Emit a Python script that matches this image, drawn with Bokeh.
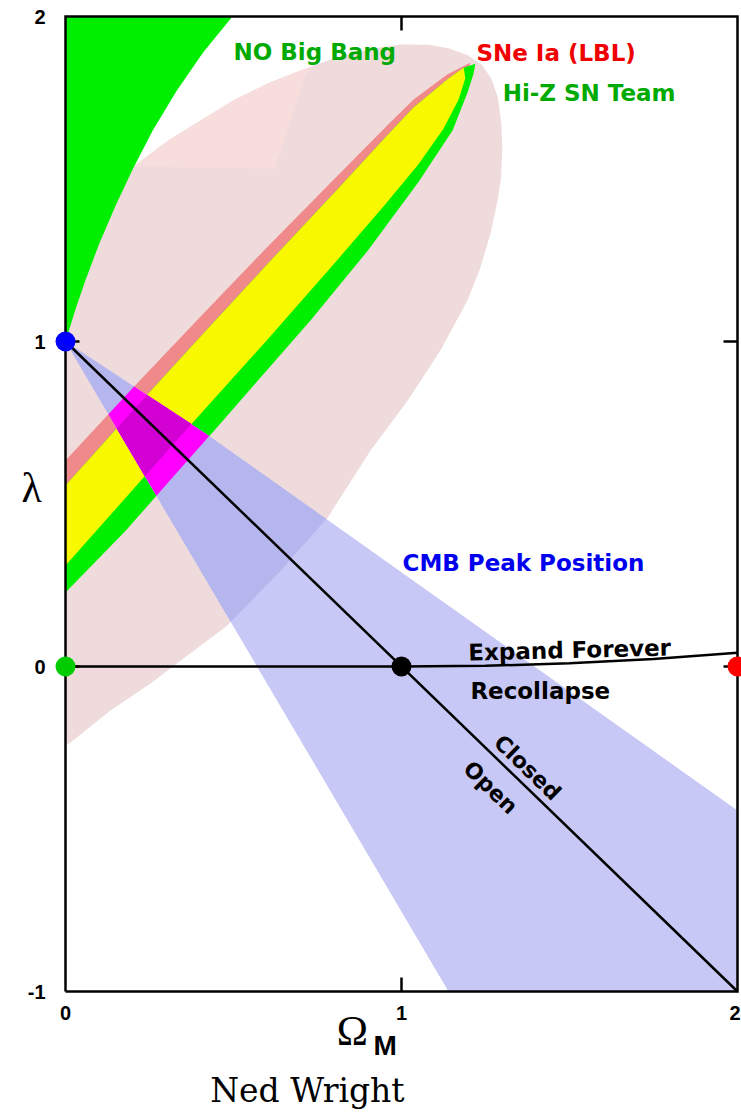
from bokeh.plotting import figure
from bokeh.models import Range1d
from bokeh.core.properties import value
from bokeh.embed import file_html
from bokeh.resources import INLINE

# ---------------- data ----------------
OM_MIN, OM_MAX = 0.0, 2.0
LAM_MIN, LAM_MAX = -1.0, 2.0
om_ticks = [0, 1, 2]
lam_ticks = [-1, 0, 1, 2]
om_tick_labels = ["0", "1", "2"]
lam_tick_labels = ["-1", "0", "1", "2"]

# "NO Big Bang" region boundary (left of this curve)
nbb_om = [0.0, 0.03, 0.06, 0.10, 0.15, 0.20, 0.26, 0.33, 0.41, 0.497]
nbb_lam = [1.0, 1.10, 1.19, 1.30, 1.42, 1.53, 1.65, 1.77, 1.89, 2.0]

# large pink confidence region
pink_om = [0.0, 0.202, 0.304, 0.402, 0.500, 0.601, 0.699, 0.798, 0.908, 0.997, 1.080, 1.140,
           1.199, 1.240, 1.268, 1.287, 1.297, 1.300, 1.296, 1.286, 1.265, 1.235, 1.196, 1.116,
           1.018, 0.908, 0.780, 0.640, 0.482, 0.342, 0.253, 0.134, 0.015, 0.0]
pink_lam = [1.60, 1.538, 1.618, 1.680, 1.742, 1.794, 1.834, 1.871, 1.900, 1.914, 1.913, 1.902,
            1.880, 1.850, 1.808, 1.750, 1.671, 1.590, 1.500, 1.434, 1.332, 1.228, 1.126, 0.972,
            0.818, 0.665, 0.458, 0.295, 0.126, 0.018, -0.052, -0.135, -0.234, -0.243]
# lighter (unstippled) sub-region of the pink area
pink2_om = [0.202, 0.304, 0.402, 0.500, 0.601, 0.699, 0.729, 0.708, 0.670, 0.640, 0.619]
pink2_lam = [1.538, 1.618, 1.680, 1.742, 1.794, 1.834, 1.845, 1.803, 1.680, 1.580, 1.532]

# SNe Ia (LBL) contour
lbl_up_om = [0.0, 0.2, 0.4, 0.6, 0.8, 0.967, 1.036, 1.137, 1.185, 1.205]
lbl_up_lam = [0.634, 0.857, 1.075, 1.290, 1.500, 1.675, 1.745, 1.822, 1.848, 1.858]
lbl_lo_om = [0.0, 0.3, 0.6, 0.8, 0.95, 1.05, 1.125, 1.17, 1.19]
lbl_lo_lam = [0.311, 0.66, 1.005, 1.24, 1.42, 1.545, 1.655, 1.745, 1.81]

# Hi-Z SN Team contour
hiz_up_om = [0.0, 0.2, 0.4, 0.6, 0.8, 0.967, 1.036, 1.137, 1.185, 1.22]
hiz_up_lam = [0.557, 0.787, 1.013, 1.237, 1.458, 1.645, 1.720, 1.807, 1.842, 1.855]
hiz_lo_om = [0.0, 0.179, 0.45, 0.729, 0.9, 1.05, 1.152, 1.196, 1.214]
hiz_lo_lam = [0.228, 0.418, 0.735, 1.065, 1.28, 1.49, 1.649, 1.765, 1.822]

# CMB peak position wedge
cmb_om = [0.0, 0.42, 2.0, 2.0, 1.14]
cmb_lam = [1.0, 0.715, -0.443, -1.0, -1.0]

# flat universe line (Closed / Open)
flat_om = [0.0, 2.0]
flat_lam = [1.0, -1.0]
# expand forever / recollapse boundary
rec_om = [0.0, 1.0, 1.25, 1.5, 1.75, 2.0]
rec_lam = [0.0, 0.0, 0.002, 0.010, 0.023, 0.042]

# special points
pt_om = [0, 0, 1, 2]
pt_lam = [1, 0, 0, 0]
pt_col = ["#0000ff", "#00cc00", "#000000", "#ff0000"]

# ---------------- helpers ----------------
def pts(xs, ys):
    return list(zip(xs, ys))

def area(poly):
    s = 0.0
    for i in range(len(poly)):
        x1, y1 = poly[i]
        x2, y2 = poly[(i + 1) % len(poly)]
        s += x1 * y2 - x2 * y1
    return s / 2

def clip(subject, clipper):
    sgn = 1 if area(clipper) > 0 else -1

    def inside(p_, a, b):
        return ((b[0] - a[0]) * (p_[1] - a[1]) - (b[1] - a[1]) * (p_[0] - a[0])) * sgn >= 0

    def inter(p_, q, a, b):
        x1, y1 = p_; x2, y2 = q; x3, y3 = a; x4, y4 = b
        den = (x1 - x2) * (y3 - y4) - (y1 - y2) * (x3 - x4)
        t = ((x1 - x3) * (y3 - y4) - (y1 - y3) * (x3 - x4)) / den
        return (x1 + t * (x2 - x1), y1 + t * (y2 - y1))

    out = list(subject)
    n = len(clipper)
    for i in range(n):
        a, b = clipper[i], clipper[(i + 1) % n]
        inp, out = out, []
        if not inp:
            break
        s = inp[-1]
        for e in inp:
            if inside(e, a, b):
                if not inside(s, a, b):
                    out.append(inter(s, e, a, b))
                out.append(e)
            elif inside(s, a, b):
                out.append(inter(s, e, a, b))
            s = e
    return out

# ---------------- figure ----------------
W, H = 741, 1113
PX_X, PX_Y = 336, 325           # pixels per data unit
X0_PX, YTOP_PX = 65, 16         # canvas position of (OM_MIN, LAM_MAX)

x_range = Range1d(OM_MIN - X0_PX / PX_X, OM_MIN + (W - X0_PX) / PX_X)
y_range = Range1d(LAM_MAX - (H - YTOP_PX) / PX_Y, LAM_MAX + YTOP_PX / PX_Y)

p = figure(width=W, height=H, x_range=x_range, y_range=y_range,
           output_backend="svg", toolbar_location=None,
           min_border_left=0, min_border_right=0, min_border_top=0, min_border_bottom=0)
p.axis.visible = False
p.grid.visible = False
p.outline_line_color = None
p.background_fill_color = "white"
p.border_fill_color = "white"


def fill(poly, color):
    if len(poly) >= 3:
        p.patch([q[0] for q in poly], [q[1] for q in poly], fill_color=color, line_color=None)


pink = pts(pink_om, pink_lam)
pink2 = pts(pink2_om, pink2_lam)
nbb = pts(nbb_om, nbb_lam) + [(OM_MIN, LAM_MAX)]
lbl = pts(lbl_up_om, lbl_up_lam) + pts(lbl_lo_om, lbl_lo_lam)[::-1]
hiz = pts(hiz_up_om, hiz_up_lam) + pts(hiz_lo_om, hiz_lo_lam)[::-1]
both = pts(hiz_up_om[:-1], hiz_up_lam[:-1]) + pts(lbl_lo_om, lbl_lo_lam)[::-1]
cmb = pts(cmb_om, cmb_lam)

fill(pink, "#efdbdb")
fill(pink2, "#f8dddd")
fill(nbb, "#00ee00")
fill(lbl, "#f08a8a")
fill(hiz, "#00ee00")
fill(both, "#f8f800")
fill(cmb, "#c8c8f6")
fill(clip(pink, cmb), "#b6b6ee")
fill(clip(lbl, cmb), "#ff00ff")
fill(clip(hiz, cmb), "#ff00ff")
fill(clip(both, cmb), "#d200d2")

# lines
p.line(flat_om, flat_lam, line_color="black", line_width=2.5)
p.line(rec_om, rec_lam, line_color="black", line_width=2.5)

# box and inward ticks
p.line([OM_MIN, OM_MAX, OM_MAX, OM_MIN, OM_MIN], [LAM_MIN, LAM_MIN, LAM_MAX, LAM_MAX, LAM_MIN],
       line_color="black", line_width=2.5, line_join="miter")
TL = 14
inner_x = [t for t in om_ticks if OM_MIN < t < OM_MAX]
inner_y = [t for t in lam_ticks if LAM_MIN < t < LAM_MAX]
p.segment(x0=inner_x + inner_x, y0=[LAM_MAX] * len(inner_x) + [LAM_MIN] * len(inner_x),
          x1=inner_x + inner_x,
          y1=[LAM_MAX - TL / PX_Y] * len(inner_x) + [LAM_MIN + TL / PX_Y] * len(inner_x),
          line_color="black", line_width=2.5)
p.segment(x0=[OM_MIN] * len(inner_y) + [OM_MAX] * len(inner_y), y0=inner_y + inner_y,
          x1=[OM_MIN + TL / PX_X] * len(inner_y) + [OM_MAX - TL / PX_X] * len(inner_y),
          y1=inner_y + inner_y, line_color="black", line_width=2.5)

# special points
p.scatter(pt_om, pt_lam, size=20, fill_color=pt_col, line_color=None)

# tick labels
TICK_FONT = value("Liberation Sans")
TICK_SIZE = value("20px")
p.text(x=[OM_MIN - 20 / PX_X] * len(lam_ticks), y=lam_ticks, text=lam_tick_labels,
       text_font=TICK_FONT, text_font_style="bold", text_font_size=TICK_SIZE,
       text_color="black", text_align="right", text_baseline="middle")
p.text(x=om_ticks[:-1], y=[LAM_MIN - 21 / PX_Y] * (len(om_ticks) - 1), text=om_tick_labels[:-1],
       text_font=TICK_FONT, text_font_style="bold", text_font_size=TICK_SIZE,
       text_color="black", text_align="center", text_baseline="middle")
# last x tick label sits at the right edge of the page
p.text(x=[x_range.end - 1 / PX_X], y=[LAM_MIN - 21 / PX_Y], text=om_tick_labels[-1:],
       text_font=TICK_FONT, text_font_style="bold", text_font_size=TICK_SIZE,
       text_color="black", text_align="right", text_baseline="middle")


# ---------------- labels ----------------
def lab(x, y, text, color="black", size="23px", font="DejaVu Sans", style="bold",
        align="left", baseline="alphabetic", angle=0.0):
    p.text(x=[x], y=[y], text=[text], text_color=color, text_font_size=value(size),
           text_font=value(font), text_font_style=style, text_align=align,
           text_baseline=baseline, angle=angle)

lab(0.50, 1.892, "NO Big Bang", color="#00aa00")
lab(1.223, 1.889, "SNe Ia (LBL)", color="#f00000")
lab(1.301, 1.766, "Hi-Z SN Team", color="#00aa00")
lab(1.003, 0.318, "CMB Peak Position", color="#0000ee")
lab(1.199, 0.043, "Expand Forever", size="23px", angle=0.025)
lab(1.205, -0.074, "Recollapse")
lab(1.375, -0.311, "Closed", size="22px", align="center", baseline="middle", angle=-0.769)
lab(1.265, -0.372, "Open", size="22px", align="center", baseline="middle", angle=-0.769)

lab(-0.101, 0.548, "λ", size="42px", font="Liberation Serif", style="normal",
    align="center", baseline="middle")
lab(0.854, -1.123, "Ω", size="42px", font="Liberation Serif", style="normal", align="center")
lab(0.917, -1.165, "M", size="28px", font="Liberation Sans", style="bold")
lab(0.720, -1.3046, "Ned Wright", size="33px", font="DejaVu Serif", style="normal",
    align="center", baseline="middle")

open("out.html", "w").write(file_html(p, INLINE))
